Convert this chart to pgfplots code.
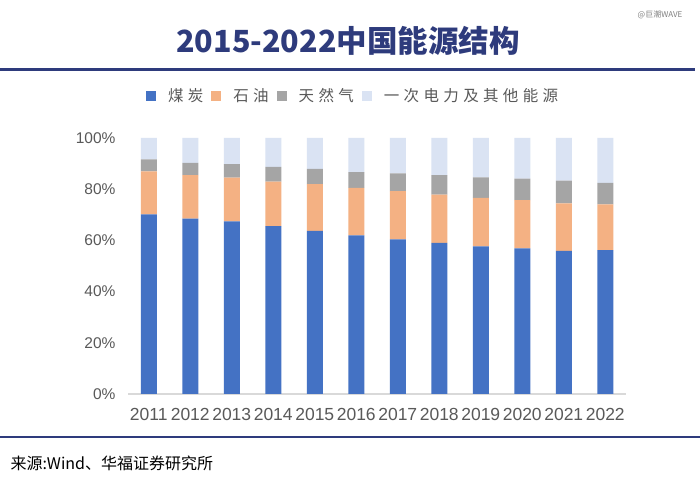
\documentclass[border=0pt]{standalone}
\usepackage{pgfplots}
\usepackage{pgfplotstable}
\pgfplotsset{compat=1.18}
\usepackage{fontspec}
\setmainfont{Liberation Sans}
\newfontfamily\cjk{Noto Sans CJK SC}
\newfontfamily\cjkspaced[LetterSpace=28]{Noto Sans CJK SC}
\definecolor{coal}{HTML}{4472C4}
\definecolor{oil}{HTML}{F4B183}
\definecolor{gas}{HTML}{A5A5A5}
\definecolor{other}{HTML}{DAE3F3}
\definecolor{navy}{HTML}{2E3B7C}
\definecolor{ticktext}{HTML}{595959}
\definecolor{axisgray}{HTML}{D9D9D9}

\pgfplotstableread{
x coal oil gas other
0 70.2 16.8 4.6 8.4
1 68.5 17.0 4.8 9.7
2 67.4 17.1 5.3 10.2
3 65.6 17.4 5.7 11.3
4 63.7 18.3 5.9 12.1
5 62.0 18.5 6.2 13.3
6 60.4 18.8 7.0 13.8
7 59.0 18.9 7.6 14.5
8 57.7 18.9 8.0 15.4
9 56.9 18.8 8.4 15.9
10 55.9 18.6 8.8 16.7
11 56.2 17.9 8.4 17.5
}\datatable

\begin{document}
\begin{tikzpicture}[x=1pt,y=1pt]
\path[use as bounding box, fill=white] (0,0) rectangle (700,486);
\node[font=\cjk\bfseries\fontsize{30.5}{36}\selectfont, text=navy] at (348,445) {2015-2022中国能源结构};
\draw[navy, line width=3pt] (0,416) -- (695,416);
\draw[navy, line width=1.8pt] (0,49) -- (700,49);
\node[anchor=west, font=\cjk\fontsize{16}{19}\selectfont, text=black] at (7,23) {来源:Wind、华福证券研究所};
\node[font=\cjk\fontsize{8}{10}\selectfont, text=gray] at (660,471) {@巨潮WAVE};
\begin{axis}[
  at={(128pt,92pt)}, anchor=south west,
  scale only axis, width=498pt, height=256pt,
  ymin=0, ymax=100, xmin=-0.5, xmax=11.5,
  ybar stacked, bar width=16pt,
  axis x line*=bottom, axis y line*=left,
  x axis line style={draw=axisgray, line width=1.5pt, -},
  y axis line style={draw=none},
  major tick length=0pt,
  xtick={0,...,11},
  xticklabels={2011,2012,2013,2014,2015,2016,2017,2018,2019,2020,2021,2022},
  ytick={0,20,40,60,80,100},
  yticklabel={\pgfmathprintnumber{\tick}\%},
  /pgf/number format/assume math mode=true,
  xticklabel style={font=\fontsize{17.5}{20}\selectfont, text=ticktext, anchor=north, yshift=-11pt},
  yticklabel style={font=\fontsize{15.5}{18}\selectfont, text=ticktext, anchor=east, xshift=-9pt},
  legend image code/.code={\fill[#1] (0pt,-5pt) rectangle (10pt,5pt);},
  legend columns=4,
  legend style={at={(0.452,1.164)}, anchor=center, draw=none, fill=none,
    font=\cjkspaced\fontsize{15.5}{18}\selectfont, text=ticktext,
    /tikz/every even column/.append style={column sep=6pt},
    /tikz/every odd column/.append style={column sep=10pt}},
]
\addplot[fill=coal, draw=none] table[x=x, y=coal] {\datatable};
\addplot[fill=oil, draw=none] table[x=x, y=oil] {\datatable};
\addplot[fill=gas, draw=none] table[x=x, y=gas] {\datatable};
\addplot[fill=other, draw=none] table[x=x, y=other] {\datatable};
\legend{煤炭,石油,天然气,一次电力及其他能源}
\end{axis}
\end{tikzpicture}
\end{document}
